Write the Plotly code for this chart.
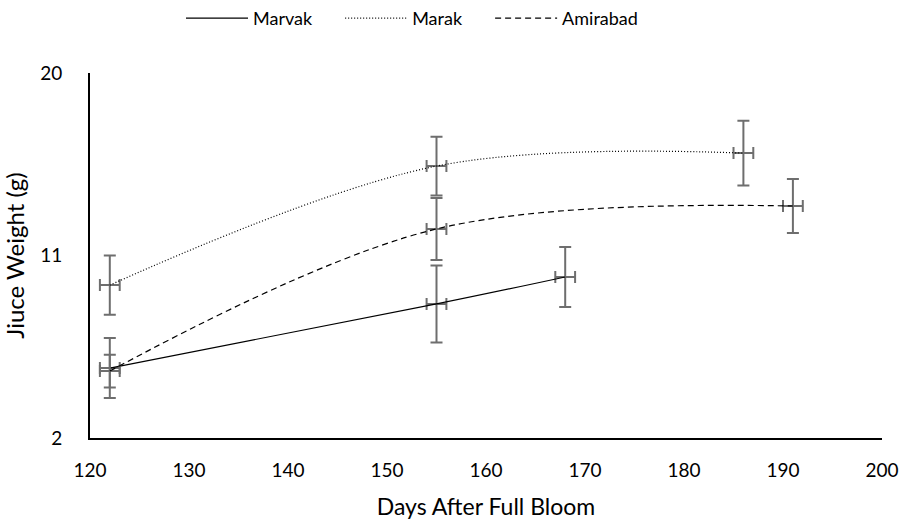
import plotly.graph_objects as go

series_names = ["Marvak", "Marak", "Amirabad"]
days = {
    "Marvak": [122, 155, 168],
    "Marak": [122, 155, 186],
    "Amirabad": [122, 155, 191],
}
weights = {
    "Marvak": [5.45, 8.61, 9.94],
    "Marak": [9.54, 15.41, 16.05],
    "Amirabad": [5.30, 12.31, 13.44],
}
weight_err = {
    "Marvak": [1.48, 1.90, 1.48],
    "Marak": [1.46, 1.45, 1.60],
    "Amirabad": [0.81, 1.53, 1.33],
}
day_err = {
    "Marvak": [1, 1, 1],
    "Marak": [1, 1, 1],
    "Amirabad": [1, 1, 1],
}
dashes = {"Marvak": "solid", "Marak": "1px,2px", "Amirabad": "6px,4px"}
y_ticks = [2, 11, 20]
x_ticks = [120, 130, 140, 150, 160, 170, 180, 190, 200]

FONT = "Lato, Calibri, Carlito, sans-serif"
err_color = "#6e6e6e"
PAD = "\u00a0" * 5

fig = go.Figure()
for name in series_names:
    fig.add_trace(go.Scatter(
        x=days[name], y=weights[name], name=name + PAD, mode="lines",
        line=dict(color="black", width=1.2, dash=dashes[name], shape="spline", smoothing=1),
        error_y=dict(type="data", array=weight_err[name], visible=True,
                     color=err_color, thickness=2, width=6),
        error_x=dict(type="data", array=day_err[name], visible=True,
                     color=err_color, thickness=2, width=6),
    ))

fig.update_layout(
    width=902, height=520,
    margin=dict(l=90, r=20, t=73, b=82, autoexpand=False),
    paper_bgcolor="white", plot_bgcolor="white",
    font=dict(family=FONT, size=19, color="black"),
    showlegend=True,
    legend=dict(orientation="h", x=181 / 902, xanchor="left", xref="container",
                y=1, yanchor="top", yref="container", itemwidth=62,
                font=dict(size=18), traceorder="normal"),
    xaxis=dict(range=[120, 200], tickvals=x_ticks, showgrid=False, zeroline=False,
               showline=True, linecolor="black", linewidth=2, ticks="",
               ticklabelstandoff=14, automargin=False, tickfont=dict(size=19),
               title=dict(text="Days After Full Bloom", font=dict(size=23), standoff=20)),
    yaxis=dict(range=[2, 20], tickvals=y_ticks, showgrid=False, zeroline=False,
               showline=True, linecolor="black", linewidth=2, ticks="",
               ticklabelstandoff=22, automargin=False, tickfont=dict(size=19),
               title=dict(text="Jiuce Weight (g)", font=dict(size=24), standoff=9)),
)

fig.write_html("out.html")
